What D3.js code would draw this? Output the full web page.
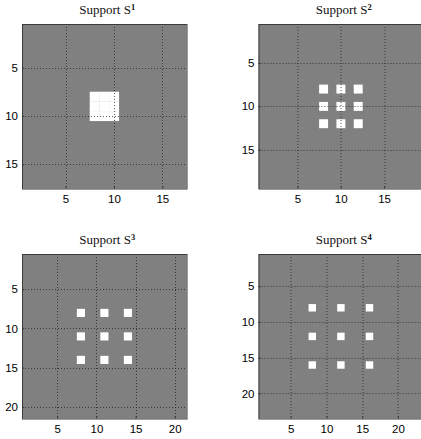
<!DOCTYPE html>
<html>
<head>
<meta charset="utf-8">
<script src="https://cdn.jsdelivr.net/npm/d3@7"></script>
<style>
html,body{margin:0;padding:0;background:#fff;}
svg{display:block;}
</style>
</head>
<body>
<div id="chart"></div>
<script>
// ---- data ----
const superscripts = ["1", "2", "3", "4"];
const gridSizes = [17, 19, 21, 23];
const supportRows = [[8, 9, 10], [8, 10, 12], [8, 11, 14], [8, 12, 16]];
const supportCols = [[8, 9, 10], [8, 10, 12], [8, 11, 14], [8, 12, 16]];
const tickValues = [[5, 10, 15], [5, 10, 15], [5, 10, 15, 20], [5, 10, 15, 20]];

const W = 421, H = 439;
const size = 164.5;
const origins = [[22, 24], [258.5, 24], [22, 254], [258.5, 254]];

const svg = d3.select("#chart").append("svg")
  .attr("width", W).attr("height", H)
  .attr("viewBox", `0 0 ${W} ${H}`);

superscripts.forEach((sup, i) => {
  const n = gridSizes[i];
  const [ox, oy] = origins[i];
  const x = d3.scaleLinear().domain([0.5, n + 0.5]).range([0, size]);
  const y = d3.scaleLinear().domain([0.5, n + 0.5]).range([0, size]);
  const g = svg.append("g").attr("transform", `translate(${ox},${oy})`);

  // background image (zero values)
  g.append("rect").attr("x", 0).attr("y", 0).attr("width", size).attr("height", size)
    .attr("fill", "#808080");

  // support cells
  const cells = [];
  supportRows[i].forEach(r => supportCols[i].forEach(c => cells.push({r, c})));
  g.selectAll("rect.cell").data(cells).enter().append("rect")
    .attr("class", "cell")
    .attr("x", d => x(d.c - 0.5))
    .attr("y", d => y(d.r - 0.5))
    .attr("width", d => x(d.c + 0.5) - x(d.c - 0.5) + 0.3)
    .attr("height", d => y(d.r + 0.5) - y(d.r - 0.5) + 0.3)
    .attr("fill", "#ffffff");

  // grid lines
  const ticks = tickValues[i];
  g.selectAll("line.vg").data(ticks).enter().append("line")
    .attr("x1", d => Math.round(x(d)) + 0.5).attr("x2", d => Math.round(x(d)) + 0.5)
    .attr("y1", 0).attr("y2", size)
    .attr("stroke", "#222").attr("stroke-opacity", 0.75)
    .attr("stroke-width", 1).attr("stroke-dasharray", "1,2");
  g.selectAll("line.hg").data(ticks).enter().append("line")
    .attr("y1", d => Math.round(y(d)) + 0.5).attr("y2", d => Math.round(y(d)) + 0.5)
    .attr("x1", 0).attr("x2", size)
    .attr("stroke", "#222").attr("stroke-opacity", 0.75)
    .attr("stroke-width", 1).attr("stroke-dasharray", "1,2");

  // axes
  const xAxis = d3.axisBottom(x).tickValues(ticks).tickSize(-2).tickPadding(4);
  const yAxis = d3.axisLeft(y).tickValues(ticks).tickSize(-2).tickPadding(4);
  const gx = g.append("g").attr("transform", `translate(0,${size})`).call(xAxis);
  const gy = g.append("g").call(yAxis);
  [gx, gy].forEach(a => {
    a.select(".domain").remove();
    a.selectAll("line").attr("stroke", "#333");
    a.selectAll("text").attr("font-family", "'Liberation Sans', Arial, sans-serif")
      .attr("font-size", 11.5).attr("fill", "#000");
  });
  gx.selectAll("text").attr("dy", "0.95em");

  // frame
  g.append("rect").attr("x", 0.5).attr("y", 0.5).attr("width", size).attr("height", size)
    .attr("fill", "none").attr("stroke", "#3a3a3a").attr("stroke-width", 1);

  // title
  const t = g.append("text")
    .attr("x", size / 2 + 3).attr("y", -10)
    .attr("text-anchor", "middle")
    .attr("font-family", "'Liberation Serif', 'Times New Roman', serif")
    .attr("font-size", 13).attr("fill", "#111");
  t.append("tspan").text("Support S");
  t.append("tspan").attr("dy", -4.5).attr("font-size", 8.5).attr("font-weight", "bold").text(sup);
});
</script>
</body>
</html>
